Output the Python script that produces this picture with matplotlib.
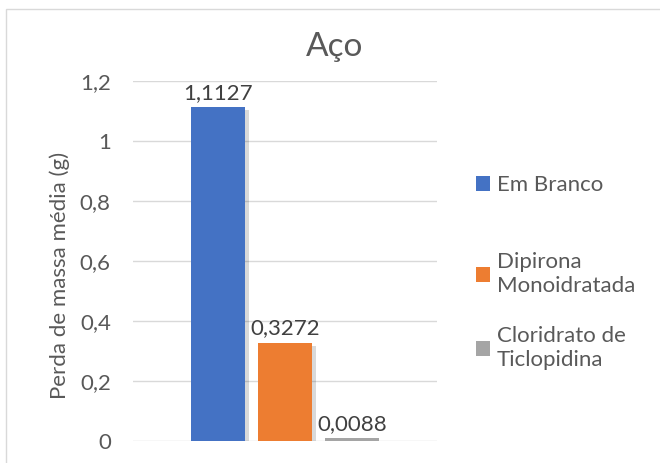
import matplotlib.pyplot as plt
import matplotlib.patheffects as pe
from matplotlib.patches import Rectangle

plt.rcParams['font.family'] = ['Lato', 'DejaVu Sans']

# dados
series = ['Em Branco', 'Dipirona\nMonoidratada', 'Cloridrato de\nTiclopidina']
valores = [1.1127, 0.3272, 0.0088]
rotulos = ['1,1127', '0,3272', '0,0088']
cores = ['#4472C4', '#ED7D31', '#A5A5A5']
yticks = [0, 0.2, 0.4, 0.6, 0.8, 1.0, 1.2]

cinza = '#595959'

fig = plt.figure(figsize=(6.6, 4.63), dpi=100)
ax = fig.add_axes([133 / 660, 1 - 441 / 463, 304 / 660, 360 / 463])

# moldura do gráfico
fig.patches.append(Rectangle((6 / 660, -0.1), 1.0, 1.1 - 9 / 463, transform=fig.transFigure,
                             fill=False, edgecolor='#D9D9D9', linewidth=1))

sombra = [pe.SimplePatchShadow(offset=(3, -2), shadow_rgbFace='black', alpha=0.15), pe.Normal()]
barras = []
for i, (v, c, s) in enumerate(zip(valores, cores, series)):
    b = ax.bar(i, v, width=0.8, color=c, label=s, zorder=3)
    b[0].set_path_effects(sombra)
    barras.append(b)
    ax.text(i, v + 0.015, rotulos[i], ha='center', va='bottom', fontsize=16, color='#404040', zorder=4)

ax.set_xlim(-1.27, 3.27)
ax.set_ylim(0, 1.2)
ax.set_yticks(yticks)
ax.set_yticklabels([f'{t:g}'.replace('.', ',') for t in yticks], fontsize=16, color=cinza)
ax.set_xticks([])
ax.tick_params(axis='y', length=0, pad=16)
ax.grid(axis='y', color='#D9D9D9', linewidth=1, zorder=0)
for sp in ax.spines.values():
    sp.set_visible(False)

ax.set_ylabel('Perda de massa média (g)', fontsize=16, color=cinza)
ax.yaxis.set_label_coords(-0.207, 0.461)
ax.set_title('Aço', fontsize=24, color=cinza, x=0.664, pad=18)

# legenda (uma caixa por série)
centros_leg = [185, 274, 348]
for b, s, yc in zip(barras, series, centros_leg):
    leg = fig.legend(handles=[b[0]], labels=[s], loc='center left',
                     bbox_to_anchor=(476 / 660, 1 - yc / 463), frameon=False, fontsize=16,
                     labelcolor=cinza, handlelength=0.65, handleheight=0.65, handletextpad=0.3,
                     borderpad=0, borderaxespad=0)
    for h in leg.legend_handles:
        h.set_path_effects([])

fig.savefig('out.png', dpi=100)
